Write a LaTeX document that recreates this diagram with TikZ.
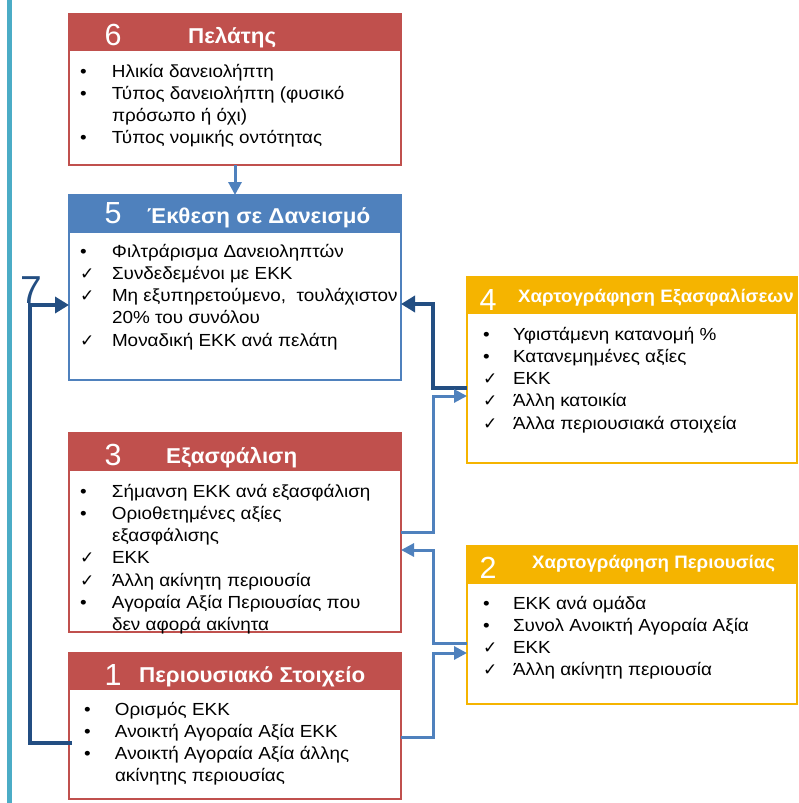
\documentclass[tikz,border=0pt]{standalone}
\usepackage{fontspec}
\setmainfont{Liberation Sans}
\newfontfamily\dejavu{DejaVu Sans}
\newfontfamily\bodyf[FakeStretch=1.08]{Liberation Sans}
\newfontfamily\titlef[FakeStretch=1.04]{Liberation Sans}
\usetikzlibrary{arrows.meta,calc}
\definecolor{cred}{RGB}{192,80,77}
\definecolor{cblue}{RGB}{79,129,189}
\definecolor{cgold}{RGB}{245,180,0}
\definecolor{cdark}{RGB}{35,78,130}
\definecolor{ccyan}{RGB}{75,172,198}
\newcommand{\bl}{•}
\newcommand{\ck}{{\dejavu\fontsize{17}{17}\selectfont ✓}}
\newcommand{\blist}[2]{\begin{tabular}[t]{@{}p{#1}@{}l@{}}#2\end{tabular}}
\tikzset{
  boxframe/.style={draw=#1, line width=2pt, fill=white, anchor=north west, inner sep=0pt, outer sep=0pt},
  boxhead/.style={draw=#1, line width=2pt, fill=#1, anchor=north west, inner sep=0pt, outer sep=0pt},
  bodytext/.style={anchor=base west, inner sep=0pt, outer sep=0pt, text=black, font=\bodyf\fontsize{17.5}{22.3}\selectfont},
  bigtitle/.style={anchor=base west, inner sep=0pt, text=white, font=\titlef\fontsize{21.5}{22}\selectfont\bfseries},
  smalltitle/.style={anchor=base west, inner sep=0pt, text=white, font=\titlef\fontsize{18}{18}\selectfont\bfseries},
  digit/.style={anchor=base, inner sep=0pt, text=white, font=\fontsize{30.5}{30}\selectfont},
  medline/.style={draw=cblue, line width=3pt},
  darkline/.style={draw=cdark, line width=4.5pt},
  medarrow/.style={medline, -{Triangle[length=13pt,width=13pt]}},
  darkarrow/.style={darkline, -{Triangle[length=14pt,width=16pt]}},
}
\begin{document}
\begin{tikzpicture}[x=1pt,y=-1pt]
\useasboundingbox (0,0) rectangle (798,803);
\fill[ccyan] (7,0) rectangle (12,803);
% boxes
\node[boxframe=cred, minimum width=332pt, minimum height=151pt] (b6) at (69,14) {};
\node[boxhead=cred, minimum width=332pt, minimum height=36pt] (h6) at (69,14) {};
\node[boxframe=cblue, minimum width=332pt, minimum height=185pt] (b5) at (69,195) {};
\node[boxhead=cblue, minimum width=332pt, minimum height=37pt] (h5) at (69,195) {};
\node[boxframe=cgold, minimum width=330pt, minimum height=186pt] (b4) at (467,277) {};
\node[boxhead=cgold, minimum width=330pt, minimum height=36pt] (h4) at (467,277) {};
\node[boxframe=cred, minimum width=332pt, minimum height=199pt] (b3) at (69,433) {};
\node[boxhead=cred, minimum width=332pt, minimum height=37pt] (h3) at (69,433) {};
\node[boxframe=cgold, minimum width=330pt, minimum height=158pt] (b2) at (467,546) {};
\node[boxhead=cgold, minimum width=330pt, minimum height=37pt] (h2) at (467,546) {};
\node[boxframe=cred, minimum width=332pt, minimum height=146pt] (b1) at (69,653) {};
\node[boxhead=cred, minimum width=332pt, minimum height=36pt] (h1) at (69,653) {};
% header texts
\node[digit] (d6) at (113,45) {6};
\node[bigtitle] (t6) at (188,43) {Πελάτης};
\node[digit] (d5) at (113,223) {5};
\node[bigtitle] (t5) at (147,223) {Έκθεση σε Δανεισμό};
\node[digit] (d4) at (488,310) {4};
\node[smalltitle] (t4) at (518,302) {Χαρτογράφηση Εξασφαλίσεων};
\node[digit] (d3) at (113,465) {3};
\node[bigtitle] (t3) at (166,463) {Εξασφάλιση};
\node[digit] (d2) at (488,578) {2};
\node[smalltitle] (t2) at (532,568) {Χαρτογράφηση Περιουσίας};
\node[digit] (d1) at (113,685) {1};
\node[bigtitle] (t1) at (139,682) {Περιουσιακό Στοιχείο};
% bodies
\node[bodytext] (l6) at (80,77) {\blist{32pt}{%
\bl & Ηλικία δανειολήπτη\\
\bl & Τύπος δανειολήπτη (φυσικό\\
 & πρόσωπο ή όχι)\\
\bl & Τύπος νομικής οντότητας}};
\node[bodytext] (l5) at (80,257) {\blist{32pt}{%
\bl & Φιλτράρισμα Δανειοληπτών\\
\ck & Συνδεδεμένοι με ΕΚΚ\\
\ck & Μη εξυπηρετούμενο,\ \ τουλάχιστον\\
 & 20\% του συνόλου\\
\ck & Μοναδική ΕΚΚ ανά πελάτη}};
\node[bodytext] (l4) at (483,340) {\blist{30pt}{%
\bl & Υφιστάμενη κατανομή \%\\
\bl & Κατανεμημένες αξίες\\
\ck & ΕΚΚ\\
\ck & Άλλη κατοικία\\
\ck & Άλλα περιουσιακά στοιχεία}};
\node[bodytext] (l3) at (80,497) {\blist{32pt}{%
\bl & Σήμανση ΕΚΚ ανά εξασφάλιση\\
\bl & Οριοθετημένες αξίες\\
 & εξασφάλισης\\
\ck & ΕΚΚ\\
\ck & Άλλη ακίνητη περιουσία\\
\bl & Αγοραία Αξία Περιουσίας που\\
 & δεν αφορά ακίνητα}};
\node[bodytext] (l2) at (483,609) {\blist{30pt}{%
\bl & ΕΚΚ ανά ομάδα\\
\bl & Συνολ Ανοικτή Αγοραία Αξία\\
\ck & ΕΚΚ\\
\ck & Άλλη ακίνητη περιουσία}};
\node[bodytext] (l1) at (84,715) {\blist{31pt}{%
\bl & Ορισμός ΕΚΚ\\
\bl & Ανοικτή Αγοραία Αξία ΕΚΚ\\
\bl & Ανοικτή Αγοραία Αξία άλλης\\
 & ακίνητης περιουσίας}};
% label 7
\node[anchor=base, inner sep=0pt, text=cdark, font=\fontsize{39}{39}\selectfont] (seven) at (31,303) {7};
% connectors
\draw[medarrow] (b6.south) -- (b5.north);
\draw[darkarrow] ($(b4.north west)+(0,111)$) -- ++(-34,0) |- ($(b5.north east)+(0,109)$);
\draw[medarrow] ($(b3.north east)+(0,99)$) -- ++(32,0) |- ($(b4.north west)+(0,119)$);
\draw[medarrow] ($(b2.north west)+(0,97)$) -- ++(-34,0) |- ($(b3.north east)+(0,117)$);
\draw[medarrow] ($(b1.north east)+(0,84)$) -- ++(32,0) |- ($(b2.north west)+(0,107)$);
\draw[darkarrow] ($(b1.north west)+(3,90)$) -- ++(-42,0) |- ($(b5.north west)+(0,110)$);
\end{tikzpicture}
\end{document}
